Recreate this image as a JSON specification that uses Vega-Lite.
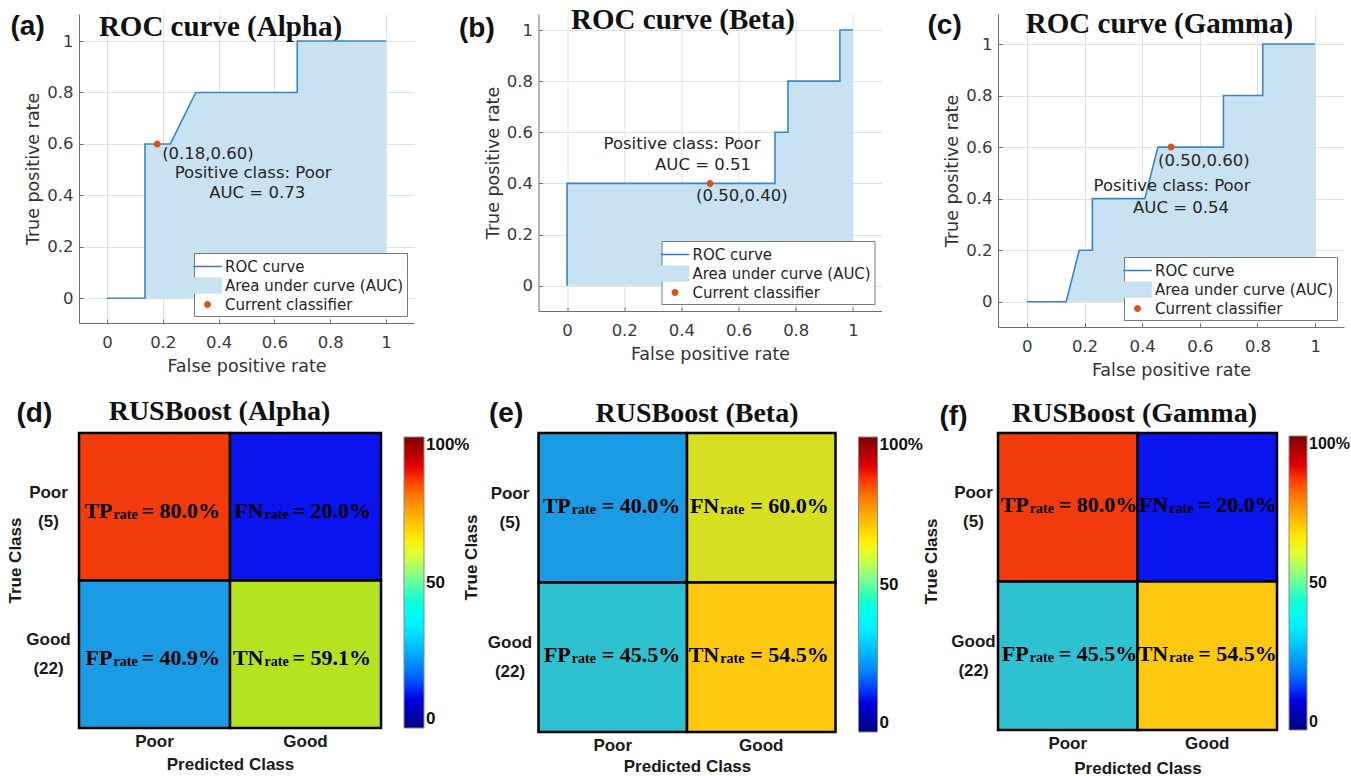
{
"$schema":"https://vega.github.io/schema/vega-lite/v6.json",
"background":"#ffffff",
"padding":{"left":6,"top":5,"right":0,"bottom":0},
"config":{"view":{"stroke":null},"legend":{"labelOverlap":false}},
"resolve":{"scale":{"color":"independent","fill":"independent","shape":"independent"},"legend":{"color":"independent","fill":"independent","shape":"independent"}},
"datasets":{
"rocAlpha":[{"i":0,"fpr":0,"tpr":0},{"i":1,"fpr":0.1364,"tpr":0},{"i":2,"fpr":0.1364,"tpr":0.6},{"i":3,"fpr":0.2273,"tpr":0.6},{"i":4,"fpr":0.3182,"tpr":0.8},{"i":5,"fpr":0.6818,"tpr":0.8},{"i":6,"fpr":0.6818,"tpr":1},{"i":7,"fpr":1,"tpr":1}],
"rocBeta":[{"i":0,"fpr":0,"tpr":0},{"i":1,"fpr":0,"tpr":0.4},{"i":2,"fpr":0.7273,"tpr":0.4},{"i":3,"fpr":0.7273,"tpr":0.6},{"i":4,"fpr":0.7727,"tpr":0.6},{"i":5,"fpr":0.7727,"tpr":0.8},{"i":6,"fpr":0.9545,"tpr":0.8},{"i":7,"fpr":0.9545,"tpr":1},{"i":8,"fpr":1,"tpr":1}],
"rocGamma":[{"i":0,"fpr":0,"tpr":0},{"i":1,"fpr":0.1364,"tpr":0},{"i":2,"fpr":0.1818,"tpr":0.2},{"i":3,"fpr":0.2273,"tpr":0.2},{"i":4,"fpr":0.2273,"tpr":0.4},{"i":5,"fpr":0.4091,"tpr":0.4},{"i":6,"fpr":0.4545,"tpr":0.6},{"i":7,"fpr":0.6818,"tpr":0.6},{"i":8,"fpr":0.6818,"tpr":0.8},{"i":9,"fpr":0.8182,"tpr":0.8},{"i":10,"fpr":0.8182,"tpr":1},{"i":11,"fpr":1,"tpr":1}],
"ptAlpha":[{"fpr":0.18,"tpr":0.6,"coord":"(0.18,0.60)","cls":"Positive class: Poor","auc":"AUC = 0.73"}],
"ptBeta":[{"fpr":0.5,"tpr":0.4,"coord":"(0.50,0.40)","cls":"Positive class: Poor","auc":"AUC = 0.51"}],
"ptGamma":[{"fpr":0.5,"tpr":0.6,"coord":"(0.50,0.60)","cls":"Positive class: Poor","auc":"AUC = 0.54"}],
"cmAlpha":[{"truth":"Poor","pred":"Poor","pct":80.0,"head":"TP","val":"= 80.0%"},{"truth":"Poor","pred":"Good","pct":20.0,"head":"FN","val":"= 20.0%"},{"truth":"Good","pred":"Poor","pct":40.9,"head":"FP","val":"= 40.9%"},{"truth":"Good","pred":"Good","pct":59.1,"head":"TN","val":"= 59.1%"}],
"cmBeta":[{"truth":"Poor","pred":"Poor","pct":40.0,"head":"TP","val":"= 40.0%"},{"truth":"Poor","pred":"Good","pct":60.0,"head":"FN","val":"= 60.0%"},{"truth":"Good","pred":"Poor","pct":45.5,"head":"FP","val":"= 45.5%"},{"truth":"Good","pred":"Good","pct":54.5,"head":"TN","val":"= 54.5%"}],
"cmGamma":[{"truth":"Poor","pred":"Poor","pct":80.0,"head":"TP","val":"= 80.0%"},{"truth":"Poor","pred":"Good","pct":20.0,"head":"FN","val":"= 20.0%"},{"truth":"Good","pred":"Poor","pct":45.5,"head":"FP","val":"= 45.5%"},{"truth":"Good","pred":"Good","pct":54.5,"head":"TN","val":"= 54.5%"}]
},
"columns":3,
"spacing":{"row":106,"column":113.5},
"bounds":"flush",
"align":"all",
"concat":[
{
"width":335,"height":309,
"layer":[
{
"encoding":{
"x":{"field":"fpr","type":"quantitative","scale":{"domain":[-0.1,1.1],"nice":false,"zero":false},"axis":{"values":[0,0.2,0.4,0.6,0.8,1],"format":"~g","grid":true,"gridColor":"#E1E1E1","domainColor":"#6E6E6E","ticks":true,"tickSize":-4,"tickColor":"#6E6E6E","labelFont":"DejaVu Sans","labelFontSize":16.5,"labelColor":"#3A3A3A","labelPadding":15,"labelFlush":false,"labelOverlap":false,"title":"False positive rate","titleFont":"DejaVu Sans","titleFontSize":17.5,"titleFontWeight":"normal","titleColor":"#333333","titlePadding":7}},
"y":{"field":"tpr","type":"quantitative","stack":null,"scale":{"domain":[-0.096,1.105],"nice":false,"zero":false},"axis":{"values":[0,0.2,0.4,0.6,0.8,1],"format":"~g","grid":true,"gridColor":"#E1E1E1","domainColor":"#6E6E6E","ticks":true,"tickSize":-4,"tickColor":"#6E6E6E","labelFont":"DejaVu Sans","labelFontSize":16.5,"labelColor":"#3A3A3A","labelPadding":10,"labelFlush":false,"labelOverlap":false,"title":"True positive rate","titleFont":"DejaVu Sans","titleFontSize":17.5,"titleFontWeight":"normal","titleColor":"#333333","titlePadding":4}}
},
"layer":[
{"data":{"name":"rocAlpha"},"mark":{"type":"area","interpolate":"linear","opacity":1},"encoding":{"color":{"datum":"Area under curve (AUC)","scale":{"domain":["ROC curve","Area under curve (AUC)","Current classifier"],"range":["#3B87C6","#C8E2F1","#D95319"]},"legend":{"title":null,"orient":"bottom-right","offset":7,"padding":3,"fillColor":"#FFFFFF","strokeColor":"#7A7A7A","labelFont":"DejaVu Sans","labelFontSize":15,"labelColor":"#262626","labelOffset":7,"labelLimit":400,"symbolSize":420,"symbolStrokeWidth":0,"rowPadding":0}}}},
{"data":{"name":"rocAlpha"},"mark":{"type":"line","strokeWidth":1.6,"interpolate":"linear"},"encoding":{"order":{"field":"i","type":"quantitative"},"color":{"datum":"ROC curve","scale":{"domain":["ROC curve","Area under curve (AUC)","Current classifier"],"range":["#3B87C6","#C8E2F1","#D95319"]}}}},
{"data":{"name":"ptAlpha"},"mark":{"type":"point","filled":true,"size":420,"opacity":1},"encoding":{"color":{"datum":"Current classifier","scale":{"domain":["ROC curve","Area under curve (AUC)","Current classifier"],"range":["#3B87C6","#C8E2F1","#D95319"]}},"shape":{"datum":"Current classifier","scale":{"domain":["ROC curve","Area under curve (AUC)","Current classifier"],"range":["M-1.4,-0.08H1.4V0.08H-1.4Z","M-1.4,-0.8H1.4V0.8H-1.4Z","M0.34,0A0.34,0.34,0,1,1,-0.34,0A0.34,0.34,0,1,1,0.34,0Z"]},"legend":{"title":null,"orient":"bottom-right","offset":7,"padding":3,"fillColor":"#FFFFFF","strokeColor":"#7A7A7A","labelFont":"DejaVu Sans","labelFontSize":15,"labelColor":"#262626","labelOffset":7,"labelLimit":400,"symbolSize":420,"symbolStrokeWidth":0,"rowPadding":0}}}},
{"data":{"name":"ptAlpha"},"mark":{"type":"text","align":"left","baseline":"middle","dx":5,"dy":10,"font":"DejaVu Sans","fontSize":16.5,"color":"#262626"},"encoding":{"text":{"field":"coord"}}}
]
},
{"data":{"name":"ptAlpha"},"mark":{"type":"text","align":"center","baseline":"middle","dx":96,"dy":29,"font":"DejaVu Sans","fontSize":16.5,"color":"#262626"},"encoding":{"x":{"field":"fpr","type":"quantitative","axis":{"orient":"top","labels":false,"ticks":false,"domain":false,"grid":false,"title":"ROC curve (Alpha)","titleFont":"Liberation Serif","titleFontWeight":"bold","titleFontSize":29,"titleColor":"#111111","titleAngle":0,"titleAlign":"center","titleBaseline":"alphabetic","titleX":141,"titleY":21}},"y":{"field":"tpr","type":"quantitative"},"text":{"field":"cls"}}},
{"data":{"name":"ptAlpha"},"mark":{"type":"text","align":"center","baseline":"middle","dx":100,"dy":49,"font":"DejaVu Sans","fontSize":16.5,"color":"#262626"},"encoding":{"x":{"field":"fpr","type":"quantitative","axis":{"orient":"top","labels":false,"ticks":false,"domain":false,"grid":false,"title":"(a)","titleFont":"Liberation Sans","titleFontWeight":"bold","titleFontSize":28,"titleColor":"#111111","titleAngle":0,"titleAlign":"left","titleBaseline":"alphabetic","titleX":-69,"titleY":20}},"y":{"field":"tpr","type":"quantitative"},"text":{"field":"auc"}}}
],
"resolve":{"axis":{"x":"independent"}}
},
{
"width":343,"height":297,
"layer":[
{
"encoding":{
"x":{"field":"fpr","type":"quantitative","scale":{"domain":[-0.1,1.1],"nice":false,"zero":false},"axis":{"values":[0,0.2,0.4,0.6,0.8,1],"format":"~g","grid":true,"gridColor":"#E1E1E1","domainColor":"#6E6E6E","ticks":true,"tickSize":-4,"tickColor":"#6E6E6E","labelFont":"DejaVu Sans","labelFontSize":16.5,"labelColor":"#3A3A3A","labelPadding":15,"labelFlush":false,"labelOverlap":false,"title":"False positive rate","titleFont":"DejaVu Sans","titleFontSize":17.5,"titleFontWeight":"normal","titleColor":"#333333","titlePadding":7}},
"y":{"field":"tpr","type":"quantitative","stack":null,"scale":{"domain":[-0.099,1.0626],"nice":false,"zero":false},"axis":{"values":[0,0.2,0.4,0.6,0.8,1],"format":"~g","grid":true,"gridColor":"#E1E1E1","domainColor":"#6E6E6E","ticks":true,"tickSize":-4,"tickColor":"#6E6E6E","labelFont":"DejaVu Sans","labelFontSize":16.5,"labelColor":"#3A3A3A","labelPadding":10,"labelFlush":false,"labelOverlap":false,"title":"True positive rate","titleFont":"DejaVu Sans","titleFontSize":17.5,"titleFontWeight":"normal","titleColor":"#333333","titlePadding":4}}
},
"layer":[
{"data":{"name":"rocBeta"},"mark":{"type":"area","interpolate":"linear","opacity":1},"encoding":{"color":{"datum":"Area under curve (AUC)","scale":{"domain":["ROC curve","Area under curve (AUC)","Current classifier"],"range":["#3B87C6","#C8E2F1","#D95319"]},"legend":{"title":null,"orient":"bottom-right","offset":7,"padding":3,"fillColor":"#FFFFFF","strokeColor":"#7A7A7A","labelFont":"DejaVu Sans","labelFontSize":15,"labelColor":"#262626","labelOffset":7,"labelLimit":400,"symbolSize":420,"symbolStrokeWidth":0,"rowPadding":0}}}},
{"data":{"name":"rocBeta"},"mark":{"type":"line","strokeWidth":1.6,"interpolate":"linear"},"encoding":{"order":{"field":"i","type":"quantitative"},"color":{"datum":"ROC curve","scale":{"domain":["ROC curve","Area under curve (AUC)","Current classifier"],"range":["#3B87C6","#C8E2F1","#D95319"]}}}},
{"data":{"name":"ptBeta"},"mark":{"type":"point","filled":true,"size":420,"opacity":1},"encoding":{"color":{"datum":"Current classifier","scale":{"domain":["ROC curve","Area under curve (AUC)","Current classifier"],"range":["#3B87C6","#C8E2F1","#D95319"]}},"shape":{"datum":"Current classifier","scale":{"domain":["ROC curve","Area under curve (AUC)","Current classifier"],"range":["M-1.4,-0.08H1.4V0.08H-1.4Z","M-1.4,-0.8H1.4V0.8H-1.4Z","M0.34,0A0.34,0.34,0,1,1,-0.34,0A0.34,0.34,0,1,1,0.34,0Z"]},"legend":{"title":null,"orient":"bottom-right","offset":7,"padding":3,"fillColor":"#FFFFFF","strokeColor":"#7A7A7A","labelFont":"DejaVu Sans","labelFontSize":15,"labelColor":"#262626","labelOffset":7,"labelLimit":400,"symbolSize":420,"symbolStrokeWidth":0,"rowPadding":0}}}},
{"data":{"name":"ptBeta"},"mark":{"type":"text","align":"left","baseline":"middle","dx":-14,"dy":13,"font":"DejaVu Sans","fontSize":16.5,"color":"#262626"},"encoding":{"text":{"field":"coord"}}}
]
},
{"data":{"name":"ptBeta"},"mark":{"type":"text","align":"center","baseline":"middle","dx":-28,"dy":-39,"font":"DejaVu Sans","fontSize":16.5,"color":"#262626"},"encoding":{"x":{"field":"fpr","type":"quantitative","axis":{"orient":"top","labels":false,"ticks":false,"domain":false,"grid":false,"title":"ROC curve (Beta)","titleFont":"Liberation Serif","titleFontWeight":"bold","titleFontSize":29,"titleColor":"#111111","titleAngle":0,"titleAlign":"center","titleBaseline":"alphabetic","titleX":144,"titleY":14}},"y":{"field":"tpr","type":"quantitative"},"text":{"field":"cls"}}},
{"data":{"name":"ptBeta"},"mark":{"type":"text","align":"center","baseline":"middle","dx":-7,"dy":-18,"font":"DejaVu Sans","fontSize":16.5,"color":"#262626"},"encoding":{"x":{"field":"fpr","type":"quantitative","axis":{"orient":"top","labels":false,"ticks":false,"domain":false,"grid":false,"title":"(b)","titleFont":"Liberation Sans","titleFontWeight":"bold","titleFontSize":28,"titleColor":"#111111","titleAngle":0,"titleAlign":"left","titleBaseline":"alphabetic","titleX":-80,"titleY":22}},"y":{"field":"tpr","type":"quantitative"},"text":{"field":"auc"}}}
],
"resolve":{"axis":{"x":"independent"}}
},
{
"width":346,"height":313,
"layer":[
{
"encoding":{
"x":{"field":"fpr","type":"quantitative","scale":{"domain":[-0.1,1.1],"nice":false,"zero":false},"axis":{"values":[0,0.2,0.4,0.6,0.8,1],"format":"~g","grid":true,"gridColor":"#E1E1E1","domainColor":"#6E6E6E","ticks":true,"tickSize":-4,"tickColor":"#6E6E6E","labelFont":"DejaVu Sans","labelFontSize":16.5,"labelColor":"#3A3A3A","labelPadding":15,"labelFlush":false,"labelOverlap":false,"title":"False positive rate","titleFont":"DejaVu Sans","titleFontSize":17.5,"titleFontWeight":"normal","titleColor":"#333333","titlePadding":7}},
"y":{"field":"tpr","type":"quantitative","stack":null,"scale":{"domain":[-0.098,1.1164],"nice":false,"zero":false},"axis":{"values":[0,0.2,0.4,0.6,0.8,1],"format":"~g","grid":true,"gridColor":"#E1E1E1","domainColor":"#6E6E6E","ticks":true,"tickSize":-4,"tickColor":"#6E6E6E","labelFont":"DejaVu Sans","labelFontSize":16.5,"labelColor":"#3A3A3A","labelPadding":10,"labelFlush":false,"labelOverlap":false,"title":"True positive rate","titleFont":"DejaVu Sans","titleFontSize":17.5,"titleFontWeight":"normal","titleColor":"#333333","titlePadding":4}}
},
"layer":[
{"data":{"name":"rocGamma"},"mark":{"type":"area","interpolate":"linear","opacity":1},"encoding":{"color":{"datum":"Area under curve (AUC)","scale":{"domain":["ROC curve","Area under curve (AUC)","Current classifier"],"range":["#3B87C6","#C8E2F1","#D95319"]},"legend":{"title":null,"orient":"bottom-right","offset":7,"padding":3,"fillColor":"#FFFFFF","strokeColor":"#7A7A7A","labelFont":"DejaVu Sans","labelFontSize":15,"labelColor":"#262626","labelOffset":7,"labelLimit":400,"symbolSize":420,"symbolStrokeWidth":0,"rowPadding":0}}}},
{"data":{"name":"rocGamma"},"mark":{"type":"line","strokeWidth":1.6,"interpolate":"linear"},"encoding":{"order":{"field":"i","type":"quantitative"},"color":{"datum":"ROC curve","scale":{"domain":["ROC curve","Area under curve (AUC)","Current classifier"],"range":["#3B87C6","#C8E2F1","#D95319"]}}}},
{"data":{"name":"ptGamma"},"mark":{"type":"point","filled":true,"size":420,"opacity":1},"encoding":{"color":{"datum":"Current classifier","scale":{"domain":["ROC curve","Area under curve (AUC)","Current classifier"],"range":["#3B87C6","#C8E2F1","#D95319"]}},"shape":{"datum":"Current classifier","scale":{"domain":["ROC curve","Area under curve (AUC)","Current classifier"],"range":["M-1.4,-0.08H1.4V0.08H-1.4Z","M-1.4,-0.8H1.4V0.8H-1.4Z","M0.34,0A0.34,0.34,0,1,1,-0.34,0A0.34,0.34,0,1,1,0.34,0Z"]},"legend":{"title":null,"orient":"bottom-right","offset":7,"padding":3,"fillColor":"#FFFFFF","strokeColor":"#7A7A7A","labelFont":"DejaVu Sans","labelFontSize":15,"labelColor":"#262626","labelOffset":7,"labelLimit":400,"symbolSize":420,"symbolStrokeWidth":0,"rowPadding":0}}}},
{"data":{"name":"ptGamma"},"mark":{"type":"text","align":"left","baseline":"middle","dx":-13,"dy":14,"font":"DejaVu Sans","fontSize":16.5,"color":"#262626"},"encoding":{"text":{"field":"coord"}}}
]
},
{"data":{"name":"ptGamma"},"mark":{"type":"text","align":"center","baseline":"middle","dx":1,"dy":39,"font":"DejaVu Sans","fontSize":16.5,"color":"#262626"},"encoding":{"x":{"field":"fpr","type":"quantitative","axis":{"orient":"top","labels":false,"ticks":false,"domain":false,"grid":false,"title":"ROC curve (Gamma)","titleFont":"Liberation Serif","titleFontWeight":"bold","titleFontSize":29,"titleColor":"#111111","titleAngle":0,"titleAlign":"center","titleBaseline":"alphabetic","titleX":161,"titleY":18}},"y":{"field":"tpr","type":"quantitative"},"text":{"field":"cls"}}},
{"data":{"name":"ptGamma"},"mark":{"type":"text","align":"center","baseline":"middle","dx":10,"dy":61,"font":"DejaVu Sans","fontSize":16.5,"color":"#262626"},"encoding":{"x":{"field":"fpr","type":"quantitative","axis":{"orient":"top","labels":false,"ticks":false,"domain":false,"grid":false,"title":"(c)","titleFont":"Liberation Sans","titleFontWeight":"bold","titleFontSize":28,"titleColor":"#111111","titleAngle":0,"titleAlign":"left","titleBaseline":"alphabetic","titleX":-71,"titleY":19}},"y":{"field":"tpr","type":"quantitative"},"text":{"field":"auc"}}}
],
"resolve":{"axis":{"x":"independent"}}
},
{
"width":302,"height":295,
"data":{"name":"cmAlpha"},
"layer":[
{
"encoding":{
"x":{"field":"pred","type":"nominal","sort":["Poor","Good"],"scale":{"paddingInner":0,"paddingOuter":0},"axis":{"orient":"bottom","domain":false,"ticks":false,"tickSize":0,"labelAngle":0,"labelFont":"Liberation Sans","labelFontWeight":"bold","labelFontSize":17,"labelColor":"#1A1A1A","labelPadding":5,"title":"Predicted Class","titleFont":"Liberation Sans","titleFontWeight":"bold","titleFontSize":17,"titleColor":"#1A1A1A","titlePadding":7}},
"y":{"field":"truth","type":"nominal","sort":["Poor","Good"],"scale":{"paddingInner":0,"paddingOuter":0},"axis":{"domain":false,"ticks":false,"tickSize":0,"labelAngle":0,"labelAlign":"center","labelBaseline":"middle","labelPadding":31,"labelOffset":-14,"labelLineHeight":29,"labelExpr":"datum.value === 'Poor' ? ['Poor', '(5)'] : ['Good', '(22)']","labelFont":"Liberation Sans","labelFontWeight":"bold","labelFontSize":17,"labelColor":"#1A1A1A","title":"True Class","titleFont":"Liberation Sans","titleFontWeight":"bold","titleFontSize":17,"titleColor":"#1A1A1A","titlePadding":1,"titleY":127}}
},
"layer":[
{"mark":{"type":"rect","stroke":"#000000","strokeWidth":2.5},"encoding":{"color":{"field":"pct","type":"quantitative","scale":{"domain":[20,40,40.9,45.5,54.5,59.1,60,80],"range":["#0A14EF","#1B9BE4","#1B9BE4","#2EC1D0","#FEC80F","#B5E31F","#D6E021","#F23B0D"]},"legend":null}}},
{"mark":{"type":"point","filled":true,"size":0,"opacity":1},"encoding":{"fill":{"field":"pct","type":"quantitative","scale":{"domain":[0,12.5,37.5,62.5,87.5,100],"range":["#00007F","#0000FF","#00FFFF","#FFFF00","#FF0000","#7F0000"]},"legend":{"title":null,"orient":"right","direction":"vertical","type":"gradient","gradientLength":291,"gradientThickness":20,"gradientStrokeColor":"#8A8A8A","gradientStrokeWidth":1,"values":[0,50,100],"labelExpr":"datum.value === 100 ? '100%' : datum.label","labelFont":"Liberation Sans","labelFontWeight":"bold","labelFontSize":17,"labelColor":"#111111","labelOffset":2,"labelOverlap":false,"offset":19,"padding":4}}}},
{"mark":{"type":"text","align":"right","baseline":"alphabetic","dx":-42,"dy":11,"font":"Liberation Serif","fontWeight":"bold","fontSize":22,"color":"#000000"},"encoding":{"text":{"field":"head"}}}
]
},
{"mark":{"type":"text","align":"left","baseline":"alphabetic","dx":-13,"dy":11,"font":"Liberation Serif","fontWeight":"bold","fontSize":22,"color":"#000000"},"encoding":{"x":{"field":"pred","type":"nominal","sort":["Poor","Good"],"axis":{"orient":"top","labels":false,"ticks":false,"domain":false,"grid":false,"title":"RUSBoost (Alpha)","titleFont":"Liberation Serif","titleFontWeight":"bold","titleFontSize":28,"titleColor":"#111111","titleAngle":0,"titleAlign":"center","titleBaseline":"alphabetic","titleX":140,"titleY":-14}},"y":{"field":"truth","type":"nominal","sort":["Poor","Good"]},"text":{"field":"val"}}},
{"mark":{"type":"text","align":"left","baseline":"alphabetic","dx":-41,"dy":12,"font":"Liberation Serif","fontWeight":"bold","fontSize":14,"color":"#000000"},"encoding":{"x":{"field":"pred","type":"nominal","sort":["Poor","Good"],"axis":{"orient":"top","labels":false,"ticks":false,"domain":false,"grid":false,"title":"(d)","titleFont":"Liberation Sans","titleFontWeight":"bold","titleFontSize":28,"titleColor":"#111111","titleAngle":0,"titleAlign":"left","titleBaseline":"alphabetic","titleX":-63,"titleY":-12}},"y":{"field":"truth","type":"nominal","sort":["Poor","Good"]},"text":{"value":"rate"}}}
],
"resolve":{"axis":{"x":"independent"}}
},
{
"width":297,"height":299,
"data":{"name":"cmBeta"},
"layer":[
{
"encoding":{
"x":{"field":"pred","type":"nominal","sort":["Poor","Good"],"scale":{"paddingInner":0,"paddingOuter":0},"axis":{"orient":"bottom","domain":false,"ticks":false,"tickSize":0,"labelAngle":0,"labelFont":"Liberation Sans","labelFontWeight":"bold","labelFontSize":17,"labelColor":"#1A1A1A","labelPadding":5,"title":"Predicted Class","titleFont":"Liberation Sans","titleFontWeight":"bold","titleFontSize":17,"titleColor":"#1A1A1A","titlePadding":5}},
"y":{"field":"truth","type":"nominal","sort":["Poor","Good"],"scale":{"paddingInner":0,"paddingOuter":0},"axis":{"domain":false,"ticks":false,"tickSize":0,"labelAngle":0,"labelAlign":"center","labelBaseline":"middle","labelPadding":29,"labelOffset":-14,"labelLineHeight":29,"labelExpr":"datum.value === 'Poor' ? ['Poor', '(5)'] : ['Good', '(22)']","labelFont":"Liberation Sans","labelFontWeight":"bold","labelFontSize":17,"labelColor":"#1A1A1A","title":"True Class","titleFont":"Liberation Sans","titleFontWeight":"bold","titleFontSize":17,"titleColor":"#1A1A1A","titlePadding":7,"titleY":124}}
},
"layer":[
{"mark":{"type":"rect","stroke":"#000000","strokeWidth":2.5},"encoding":{"color":{"field":"pct","type":"quantitative","scale":{"domain":[20,40,40.9,45.5,54.5,59.1,60,80],"range":["#0A14EF","#1B9BE4","#1B9BE4","#2EC1D0","#FEC80F","#B5E31F","#D6E021","#F23B0D"]},"legend":null}}},
{"mark":{"type":"point","filled":true,"size":0,"opacity":1},"encoding":{"fill":{"field":"pct","type":"quantitative","scale":{"domain":[0,12.5,37.5,62.5,87.5,100],"range":["#00007F","#0000FF","#00FFFF","#FFFF00","#FF0000","#7F0000"]},"legend":{"title":null,"orient":"right","direction":"vertical","type":"gradient","gradientLength":295,"gradientThickness":19,"gradientStrokeColor":"#8A8A8A","gradientStrokeWidth":1,"values":[0,50,100],"labelExpr":"datum.value === 100 ? '100%' : datum.label","labelFont":"Liberation Sans","labelFontWeight":"bold","labelFontSize":17,"labelColor":"#111111","labelOffset":2,"labelOverlap":false,"offset":19,"padding":4}}}},
{"mark":{"type":"text","align":"right","baseline":"alphabetic","dx":-42,"dy":5,"font":"Liberation Serif","fontWeight":"bold","fontSize":22,"color":"#000000"},"encoding":{"text":{"field":"head"}}}
]
},
{"mark":{"type":"text","align":"left","baseline":"alphabetic","dx":-11,"dy":5,"font":"Liberation Serif","fontWeight":"bold","fontSize":22,"color":"#000000"},"encoding":{"x":{"field":"pred","type":"nominal","sort":["Poor","Good"],"axis":{"orient":"top","labels":false,"ticks":false,"domain":false,"grid":false,"title":"RUSBoost (Beta)","titleFont":"Liberation Serif","titleFontWeight":"bold","titleFontSize":28,"titleColor":"#111111","titleAngle":0,"titleAlign":"center","titleBaseline":"alphabetic","titleX":158,"titleY":-12}},"y":{"field":"truth","type":"nominal","sort":["Poor","Good"]},"text":{"field":"val"}}},
{"mark":{"type":"text","align":"left","baseline":"alphabetic","dx":-41,"dy":6,"font":"Liberation Serif","fontWeight":"bold","fontSize":14,"color":"#000000"},"encoding":{"x":{"field":"pred","type":"nominal","sort":["Poor","Good"],"axis":{"orient":"top","labels":false,"ticks":false,"domain":false,"grid":false,"title":"(e)","titleFont":"Liberation Sans","titleFontWeight":"bold","titleFontSize":28,"titleColor":"#111111","titleAngle":0,"titleAlign":"left","titleBaseline":"alphabetic","titleX":-50,"titleY":-12}},"y":{"field":"truth","type":"nominal","sort":["Poor","Good"]},"text":{"value":"rate"}}}
],
"resolve":{"axis":{"x":"independent"}}
},
{
"width":279,"height":297,
"data":{"name":"cmGamma"},
"layer":[
{
"encoding":{
"x":{"field":"pred","type":"nominal","sort":["Poor","Good"],"scale":{"paddingInner":0,"paddingOuter":0},"axis":{"orient":"bottom","domain":false,"ticks":false,"tickSize":0,"labelAngle":0,"labelFont":"Liberation Sans","labelFontWeight":"bold","labelFontSize":17,"labelColor":"#1A1A1A","labelPadding":5,"title":"Predicted Class","titleFont":"Liberation Sans","titleFontWeight":"bold","titleFontSize":17,"titleColor":"#1A1A1A","titlePadding":9}},
"y":{"field":"truth","type":"nominal","sort":["Poor","Good"],"scale":{"paddingInner":0,"paddingOuter":0},"axis":{"domain":false,"ticks":false,"tickSize":0,"labelAngle":0,"labelAlign":"center","labelBaseline":"middle","labelPadding":25,"labelOffset":-14,"labelLineHeight":29,"labelExpr":"datum.value === 'Poor' ? ['Poor', '(5)'] : ['Good', '(22)']","labelFont":"Liberation Sans","labelFontWeight":"bold","labelFontSize":17,"labelColor":"#1A1A1A","title":"True Class","titleFont":"Liberation Sans","titleFontWeight":"bold","titleFontSize":17,"titleColor":"#1A1A1A","titlePadding":10,"titleY":128}}
},
"layer":[
{"mark":{"type":"rect","stroke":"#000000","strokeWidth":2.5},"encoding":{"color":{"field":"pct","type":"quantitative","scale":{"domain":[20,40,40.9,45.5,54.5,59.1,60,80],"range":["#0A14EF","#1B9BE4","#1B9BE4","#2EC1D0","#FEC80F","#B5E31F","#D6E021","#F23B0D"]},"legend":null}}},
{"mark":{"type":"point","filled":true,"size":0,"opacity":1},"encoding":{"fill":{"field":"pct","type":"quantitative","scale":{"domain":[0,12.5,37.5,62.5,87.5,100],"range":["#00007F","#0000FF","#00FFFF","#FFFF00","#FF0000","#7F0000"]},"legend":{"title":null,"orient":"right","direction":"vertical","type":"gradient","gradientLength":294,"gradientThickness":18,"gradientStrokeColor":"#8A8A8A","gradientStrokeWidth":1,"values":[0,50,100],"labelExpr":"datum.value === 100 ? '100%' : datum.label","labelFont":"Liberation Sans","labelFontWeight":"bold","labelFontSize":16,"labelColor":"#111111","labelOffset":2,"labelOverlap":false,"offset":9,"padding":3}}}},
{"mark":{"type":"text","align":"right","baseline":"alphabetic","dx":-39,"dy":5,"font":"Liberation Serif","fontWeight":"bold","fontSize":22,"color":"#000000"},"encoding":{"text":{"field":"head"}}}
]
},
{"mark":{"type":"text","align":"left","baseline":"alphabetic","dx":-9,"dy":5,"font":"Liberation Serif","fontWeight":"bold","fontSize":22,"color":"#000000"},"encoding":{"x":{"field":"pred","type":"nominal","sort":["Poor","Good"],"axis":{"orient":"top","labels":false,"ticks":false,"domain":false,"grid":false,"title":"RUSBoost (Gamma)","titleFont":"Liberation Serif","titleFontWeight":"bold","titleFontSize":28,"titleColor":"#111111","titleAngle":0,"titleAlign":"center","titleBaseline":"alphabetic","titleX":136,"titleY":-12}},"y":{"field":"truth","type":"nominal","sort":["Poor","Good"]},"text":{"field":"val"}}},
{"mark":{"type":"text","align":"left","baseline":"alphabetic","dx":-38,"dy":6,"font":"Liberation Serif","fontWeight":"bold","fontSize":14,"color":"#000000"},"encoding":{"x":{"field":"pred","type":"nominal","sort":["Poor","Good"],"axis":{"orient":"top","labels":false,"ticks":false,"domain":false,"grid":false,"title":"(f)","titleFont":"Liberation Sans","titleFontWeight":"bold","titleFontSize":28,"titleColor":"#111111","titleAngle":0,"titleAlign":"left","titleBaseline":"alphabetic","titleX":-59,"titleY":-9}},"y":{"field":"truth","type":"nominal","sort":["Poor","Good"]},"text":{"value":"rate"}}}
],
"resolve":{"axis":{"x":"independent"}}
}
]
}
